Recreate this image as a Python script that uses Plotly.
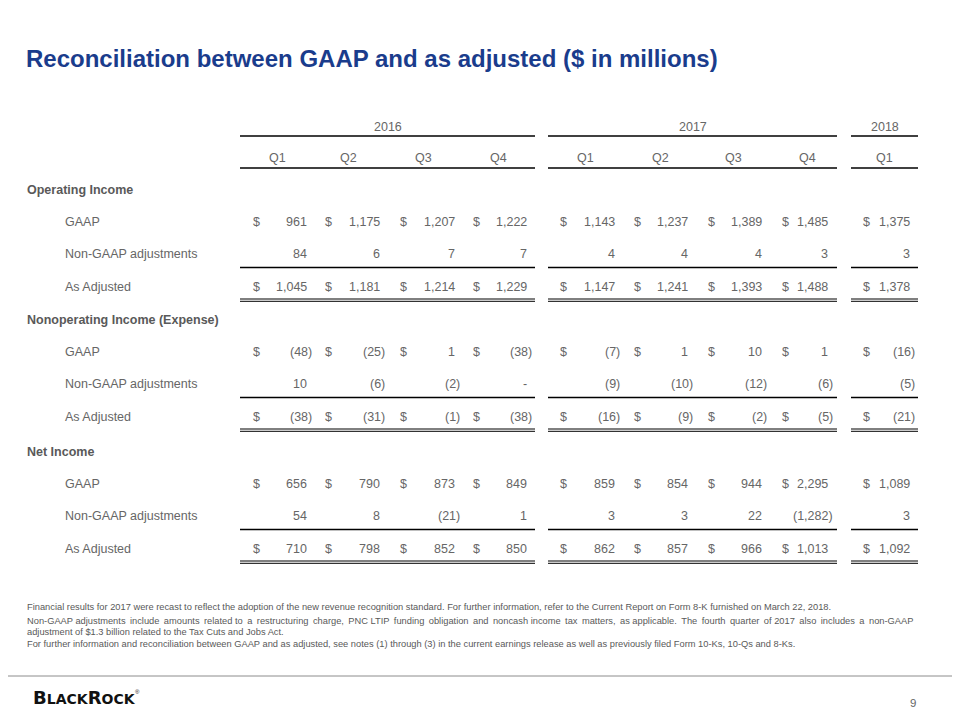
import plotly.graph_objects as go

# ---------------- data ----------------
years = ["2016", "2017", "2018"]
quarters = ["Q1", "Q2", "Q3", "Q4", "Q1", "Q2", "Q3", "Q4", "Q1"]
sections = ["Operating Income", "Nonoperating Income (Expense)", "Net Income"]
row_labels = ["GAAP", "Non-GAAP adjustments", "As Adjusted"]

op_gaap = [961, 1175, 1207, 1222, 1143, 1237, 1389, 1485, 1375]
op_adj = [84, 6, 7, 7, 4, 4, 4, 3, 3]
op_as_adj = [1045, 1181, 1214, 1229, 1147, 1241, 1393, 1488, 1378]

nonop_gaap = [-48, -25, 1, -38, -7, 1, 10, 1, -16]
nonop_adj = [10, -6, -2, 0, -9, -10, -12, -6, -5]
nonop_as_adj = [-38, -31, -1, -38, -16, -9, -2, -5, -21]

net_gaap = [656, 790, 873, 849, 859, 854, 944, 2295, 1089]
net_adj = [54, 8, -21, 1, 3, 3, 22, -1282, 3]
net_as_adj = [710, 798, 852, 850, 862, 857, 966, 1013, 1092]

section_rows = [
    [op_gaap, op_adj, op_as_adj],
    [nonop_gaap, nonop_adj, nonop_as_adj],
    [net_gaap, net_adj, net_as_adj],
]

title = "Reconciliation between GAAP and as adjusted ($ in millions)"
footnotes = [
    "Financial results for 2017 were recast to reflect the adoption of the new revenue recognition standard. For further information, refer to the Current Report on Form 8-K furnished on March 22, 2018.",
    "Non-GAAP adjustments include amounts related to a restructuring charge, PNC LTIP funding obligation and noncash income tax matters, as applicable. The fourth quarter of 2017 also includes a non-GAAP",
    "adjustment of $1.3 billion related to the Tax Cuts and Jobs Act.",
    "For further information and reconciliation between GAAP and as adjusted, see notes (1) through (3) in the current earnings release as well as previously filed Form 10-Ks, 10-Qs and 8-Ks.",
]
page_number = "9"

# ---------------- layout constants ----------------
W, H = 960, 720
OFF = 8  # page body margin
FONT = "Liberation Sans, Arial, sans-serif"
GRAY = "#666666"
LABEL_GRAY = "#595959"
TITLE_BLUE = "#1a3c8c"

dollar_x = [253, 325, 400, 473, 560, 634, 708, 782, 863]
value_right = [307, 380, 455, 527, 615, 688, 762, 828, 910]
quarter_cx = [277, 348, 423, 498, 585, 660, 733, 807, 884]
group_spans = [(240, 535), (548, 837), (851, 918)]

year_y = 127
year_line_y = 136
quarter_y = 158
quarter_line_y = 168
section_label_y = [190, 320, 452]
row_step = 32.5
label_x_section = 27
label_x_row = 65
TXT = 12.5
justify_extra = [0, 22, 0, 0]  # thin spaces added to imitate justified lines


def fmt(v):
    if v == 0:
        return "-"
    if v < 0:
        return "({:,})".format(-v)
    return "{:,}".format(v)


def spread(text, n_extra):
    if n_extra <= 0:
        return text
    words = text.split(" ")
    gaps = len(words) - 1
    out = words[0]
    for i in range(1, len(words)):
        extra = (i * n_extra) // gaps - ((i - 1) * n_extra) // gaps
        out += " " + "\u2009" * extra + words[i]
    return out


fig = go.Figure()
annotations = []
shapes = []


def add_text(x, y, text, size=TXT, color=GRAY, xanchor="left", bold=False, family=FONT):
    if bold:
        text = "<b>" + text + "</b>"
    annotations.append(dict(
        x=x, y=y, xref="x", yref="y", text=text, showarrow=False,
        xanchor=xanchor, yanchor="middle", borderpad=0, borderwidth=0,
        font=dict(size=size, color=color, family=family),
    ))


def add_line(x0, x1, y, color="#000000", width=1.3):
    shapes.append(dict(type="line", xref="x", yref="y", x0=x0, x1=x1, y0=y, y1=y,
                       line=dict(color=color, width=width)))


# title
add_text(26, 58, title, size=24, color=TITLE_BLUE, bold=True)

# year headers
for (x0, x1), yr in zip(group_spans, years):
    add_text((x0 + x1) / 2, year_y, yr, xanchor="center")
    add_line(x0, x1, year_line_y)
    add_line(x0, x1, quarter_line_y)

for cx, q in zip(quarter_cx, quarters):
    add_text(cx, quarter_y, q, xanchor="center")

# body
for s_idx, (sec, rows) in enumerate(zip(sections, section_rows)):
    sy = section_label_y[s_idx]
    add_text(label_x_section, sy, sec, color=LABEL_GRAY, bold=True)
    for r_idx, (lab, vals) in enumerate(zip(row_labels, rows)):
        ry = sy + row_step * (r_idx + 1) - 1
        add_text(label_x_row, ry, lab)
        for c, v in enumerate(vals):
            if r_idx != 1:
                add_text(dollar_x[c], ry, "$")
            xr = value_right[c] + (5 if v < 0 else 0)
            add_text(xr, ry, fmt(v), xanchor="right")
    adj_line_y = sy + row_step * 2 + 12.5
    dbl_y = sy + row_step * 3 + 11.5
    for x0, x1 in group_spans:
        add_line(x0, x1, adj_line_y)
        add_line(x0, x1, dbl_y, width=1)
        add_line(x0, x1, dbl_y + 2.3, width=1)

# footnotes
foot_y = [607, 621, 632, 644]
for fy, ft, ex in zip(foot_y, footnotes, justify_extra):
    add_text(27, fy, spread(ft, ex), size=9.3, color="#595959")

# bottom rule
add_line(0, W, 676, color="#8c8c8c", width=1)

# logo
logo = ("<b>B<span style='font-size:14px'>LACK</span>R"
        "<span style='font-size:14px'>OCK</span></b>")
add_text(33, 697, logo, size=18, color="#111111", family="DejaVu Sans, sans-serif")
add_text(135, 692, "®", size=6, color="#111111")

add_text(916, 703, page_number, size=11.5, xanchor="right")

fig.add_trace(go.Scatter(x=[OFF, W], y=[OFF, H], mode="markers",
                         marker=dict(opacity=0), hoverinfo="skip", showlegend=False))

fig.update_layout(
    width=W - OFF, height=H - OFF,
    margin=dict(l=0, r=0, t=0, b=0),
    paper_bgcolor="white", plot_bgcolor="white",
    xaxis=dict(range=[OFF, W], visible=False, fixedrange=True),
    yaxis=dict(range=[H, OFF], visible=False, fixedrange=True),
    annotations=annotations, shapes=shapes, showlegend=False,
)

fig.write_html("out.html")
